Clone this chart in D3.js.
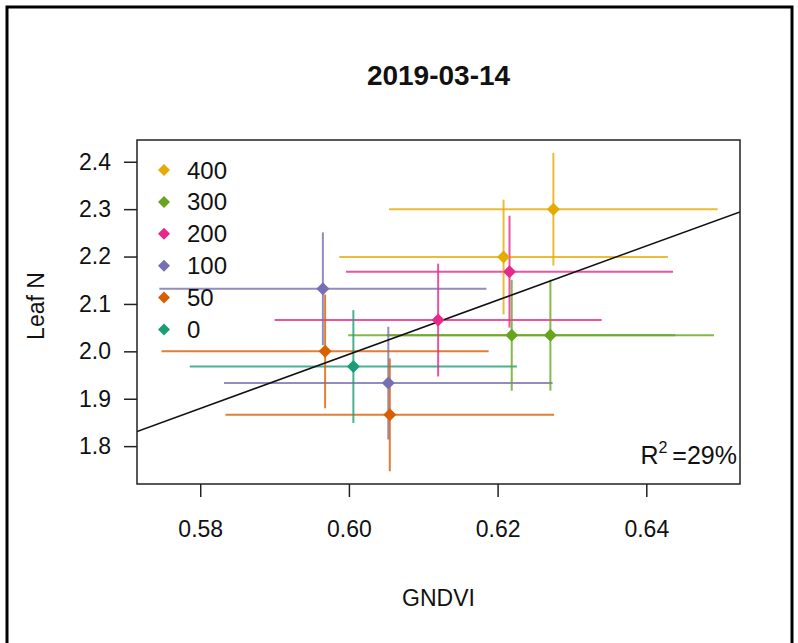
<!DOCTYPE html>
<html>
<head>
<meta charset="utf-8">
<script src="https://cdn.jsdelivr.net/npm/d3@7"></script>
<style>
  body { margin: 0; background: #fff; }
  text { font-family: "Liberation Sans", Arial, sans-serif; fill: #111; }
</style>
</head>
<body>
<svg id="chart" width="798" height="643"></svg>
<script>
// Nitrogen rate groups shown in the legend, top to bottom, with their colours
const groups = ["400", "300", "200", "100", "50", "0"];
const groupColors = ["#E6AB02", "#66A61E", "#E7298A", "#7570B3", "#D95F02", "#1B9E77"];

// One entry per plot mean: rate, GNDVI, leaf N and the half-widths of both error bars
const treatment = ["400", "400", "300", "300", "200", "200", "100", "100", "50", "50", "0"];
const gndvi     = [0.6275, 0.6208, 0.6219, 0.6271, 0.6216, 0.6120, 0.5965, 0.6053, 0.5968, 0.6055, 0.6006];
const leafN     = [2.300, 2.199, 2.034, 2.034, 2.168, 2.066, 2.132, 1.933, 2.000, 1.866, 1.968];
const gndviErr  = [0.0221, 0.0221, 0.0220, 0.0220, 0.0220, 0.0220, 0.0220, 0.0221, 0.0220, 0.0221, 0.0220];
const leafNErr  = [0.119, 0.121, 0.117, 0.117, 0.118, 0.119, 0.119, 0.119, 0.120, 0.119, 0.119];

const xTicks = [0.58, 0.60, 0.62, 0.64];
const yTicks = [1.8, 1.9, 2.0, 2.1, 2.2, 2.3, 2.4];

// Linear fit of leaf N on GNDVI
const fitIntercept = -1.434;
const fitSlope = 5.713;
const rSquared = 29;

const titleText = "2019-03-14";
const xTitle = "GNDVI";
const yTitle = "Leaf N";

const svg = d3.select("#chart");
const plot = { left: 137, top: 140, right: 740, bottom: 484 };

// Outer frame
svg.append("rect")
  .attr("x", 7).attr("y", 7).attr("width", 785).attr("height", 650)
  .attr("fill", "none").attr("stroke", "#000").attr("stroke-width", 3);

// Axis limits padded by 4% like base R graphics
function padded(lo, hi) {
  const p = (hi - lo) * 0.04;
  return [lo - p, hi + p];
}
const xLo = d3.min(gndvi.map((v, i) => v - gndviErr[i]));
const xHi = d3.max(gndvi.map((v, i) => v + gndviErr[i]));
const yLo = d3.min(leafN.map((v, i) => v - leafNErr[i]));
const yHi = d3.max(leafN.map((v, i) => v + leafNErr[i]));

const x = d3.scaleLinear().domain(padded(xLo, xHi)).range([plot.left, plot.right]);
const y = d3.scaleLinear().domain(padded(yLo, yHi)).range([plot.bottom, plot.top]);
const color = d3.scaleOrdinal().domain(groups).range(groupColors);

svg.append("clipPath").attr("id", "plotClip")
  .append("rect")
  .attr("x", plot.left).attr("y", plot.top)
  .attr("width", plot.right - plot.left).attr("height", plot.bottom - plot.top);

const idx = d3.range(gndvi.length);
const marks = svg.append("g").attr("clip-path", "url(#plotClip)");

// Horizontal error bars (GNDVI)
marks.selectAll("line.xerr").data(idx).join("line")
  .attr("class", "xerr")
  .attr("x1", i => x(gndvi[i] - gndviErr[i]))
  .attr("x2", i => x(gndvi[i] + gndviErr[i]))
  .attr("y1", i => y(leafN[i]))
  .attr("y2", i => y(leafN[i]))
  .attr("stroke", i => color(treatment[i]))
  .attr("stroke-opacity", 0.8)
  .attr("stroke-width", 2);

// Vertical error bars (leaf N)
marks.selectAll("line.yerr").data(idx).join("line")
  .attr("class", "yerr")
  .attr("x1", i => x(gndvi[i]))
  .attr("x2", i => x(gndvi[i]))
  .attr("y1", i => y(leafN[i] - leafNErr[i]))
  .attr("y2", i => y(leafN[i] + leafNErr[i]))
  .attr("stroke", i => color(treatment[i]))
  .attr("stroke-opacity", 0.8)
  .attr("stroke-width", 2);

// Regression line across the whole panel
marks.append("line")
  .attr("x1", x(x.domain()[0]))
  .attr("x2", x(x.domain()[1]))
  .attr("y1", y(fitIntercept + fitSlope * x.domain()[0]))
  .attr("y2", y(fitIntercept + fitSlope * x.domain()[1]))
  .attr("stroke", "#111")
  .attr("stroke-width", 1.5);

// Filled diamonds for the means
function diamond(cx, cy, r) {
  return `M${cx},${cy - r}L${cx + r},${cy}L${cx},${cy + r}L${cx - r},${cy}Z`;
}
marks.selectAll("path.pt").data(idx).join("path")
  .attr("class", "pt")
  .attr("d", i => diamond(x(gndvi[i]), y(leafN[i]), 6.5))
  .attr("fill", i => color(treatment[i]));

// Plot box
svg.append("rect")
  .attr("x", plot.left).attr("y", plot.top)
  .attr("width", plot.right - plot.left).attr("height", plot.bottom - plot.top)
  .attr("fill", "none").attr("stroke", "#222").attr("stroke-width", 1.5);

// Axes
const xAxis = svg.append("g")
  .attr("transform", `translate(0,${plot.bottom})`)
  .call(d3.axisBottom(x).tickValues(xTicks).tickFormat(d3.format(".2f")).tickSize(13).tickPadding(24));
const yAxis = svg.append("g")
  .attr("transform", `translate(${plot.left},0)`)
  .call(d3.axisLeft(y).tickValues(yTicks).tickFormat(d3.format(".1f")).tickSize(13).tickPadding(13));
[xAxis, yAxis].forEach(g => {
  g.select(".domain").remove();
  g.selectAll(".tick line").attr("stroke", "#222").attr("stroke-width", 1.5);
  g.selectAll(".tick text").attr("font-size", 23).attr("fill", "#111")
    .style("font-family", "'Liberation Sans', Arial, sans-serif");
});

// Titles
svg.append("text")
  .attr("x", (plot.left + plot.right) / 2).attr("y", 75)
  .attr("text-anchor", "middle").attr("dominant-baseline", "central")
  .attr("font-size", 28).attr("font-weight", "bold")
  .text(titleText);

svg.append("text")
  .attr("x", (plot.left + plot.right) / 2).attr("y", 598)
  .attr("text-anchor", "middle").attr("dominant-baseline", "central")
  .attr("font-size", 23)
  .text(xTitle);

svg.append("text")
  .attr("transform", `translate(36,306) rotate(-90)`)
  .attr("text-anchor", "middle").attr("dominant-baseline", "central")
  .attr("font-size", 23)
  .text(yTitle);

// Legend
const legend = svg.append("g");
const legendRows = legend.selectAll("g").data(groups).join("g")
  .attr("transform", (d, i) => `translate(164,${170 + i * 31.9})`);
legendRows.append("path")
  .attr("d", diamond(0, 0, 6))
  .attr("fill", d => color(d));
legendRows.append("text")
  .attr("x", 23).attr("y", 0)
  .attr("dominant-baseline", "central")
  .attr("font-size", 24)
  .text(d => d);

// R squared annotation
const r2Label = svg.append("text")
  .attr("x", 737).attr("y", 464)
  .attr("text-anchor", "end")
  .attr("font-size", 25);
r2Label.append("tspan").text("R");
r2Label.append("tspan").attr("dy", -11).attr("font-size", 16).text("2");
r2Label.append("tspan").attr("dy", 11).attr("dx", 5).text("=" + rSquared + "%");
</script>
</body>
</html>
